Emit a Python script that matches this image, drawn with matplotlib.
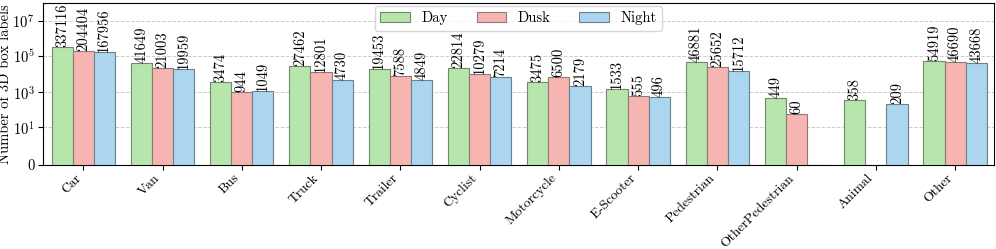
import matplotlib
matplotlib.use("Agg")
import matplotlib.pyplot as plt
import numpy as np
from matplotlib.ticker import FixedLocator, FuncFormatter, NullLocator

plt.rcParams['font.family'] = 'serif'
plt.rcParams['font.serif'] = ['cmr10']
plt.rcParams['mathtext.fontset'] = 'cm'
plt.rcParams['axes.formatter.use_mathtext'] = True
plt.rcParams['font.size'] = 10.5

categories = ["Car", "Van", "Bus", "Truck", "Trailer", "Cyclist", "Motorcycle",
              "E-Scooter", "Pedestrian", "OtherPedestrian", "Animal", "Other"]
day = [337116, 41649, 3474, 27462, 19453, 22814, 3475, 1533, 46881, 449, 358, 54919]
dusk = [204404, 21003, 944, 12801, 7588, 10279, 6500, 555, 25652, 60, 0, 46690]
night = [167956, 19959, 1049, 4730, 4849, 7214, 2179, 496, 15712, 0, 209, 43668]
series_names = ["Day", "Dusk", "Night"]
colors = ["#b6e6ac", "#f6b5b1", "#acd5ef"]
edges = ["#6f8a6b", "#8f7a78", "#6a8290"]

fig = plt.figure(figsize=(9.96, 2.49), dpi=100)
ax = fig.add_axes([0.043, 0.337, 0.955, 0.652])

x = np.arange(len(categories))
w = 0.8 / 3
for i, (vals, name) in enumerate(zip([day, dusk, night], series_names)):
    pos = x + (i - 1) * w
    ax.bar(pos, vals, w, color=colors[i], edgecolor=edges[i],
           linewidth=0.8, label=name, zorder=3)
    for p, v in zip(pos, vals):
        if v > 0:
            ax.text(p, v, str(v), rotation=90, ha='center', va='bottom',
                    fontsize=10.5, zorder=4)

ax.set_yscale('symlog', linthresh=1)
ax.set_ylim(0, 1e8)
ax.set_xlim(-0.51, 11.49)
ax.yaxis.set_major_locator(FixedLocator([0, 10, 1e3, 1e5, 1e7]))
ax.yaxis.set_minor_locator(NullLocator())
ax.yaxis.set_major_formatter(FuncFormatter(
    lambda v, p: '0' if v == 0 else r'$10^{%d}$' % int(round(np.log10(v)))))
ax.set_ylabel("Number of 3D box labels", fontsize=10.5, labelpad=0)
ax.set_xticks(x)
ax.set_xticklabels(categories, rotation=45, ha='right')
ax.tick_params(axis='x', labelsize=9.8, pad=1.5)
ax.tick_params(axis='y', labelsize=10.5, pad=2.5)
ax.grid(axis='y', linestyle='--', color='#cccccc', linewidth=0.7, zorder=0)
ax.legend(loc='upper center', ncol=3, borderaxespad=0.2, fontsize=10.5)

fig.savefig("out.png", dpi=100)
